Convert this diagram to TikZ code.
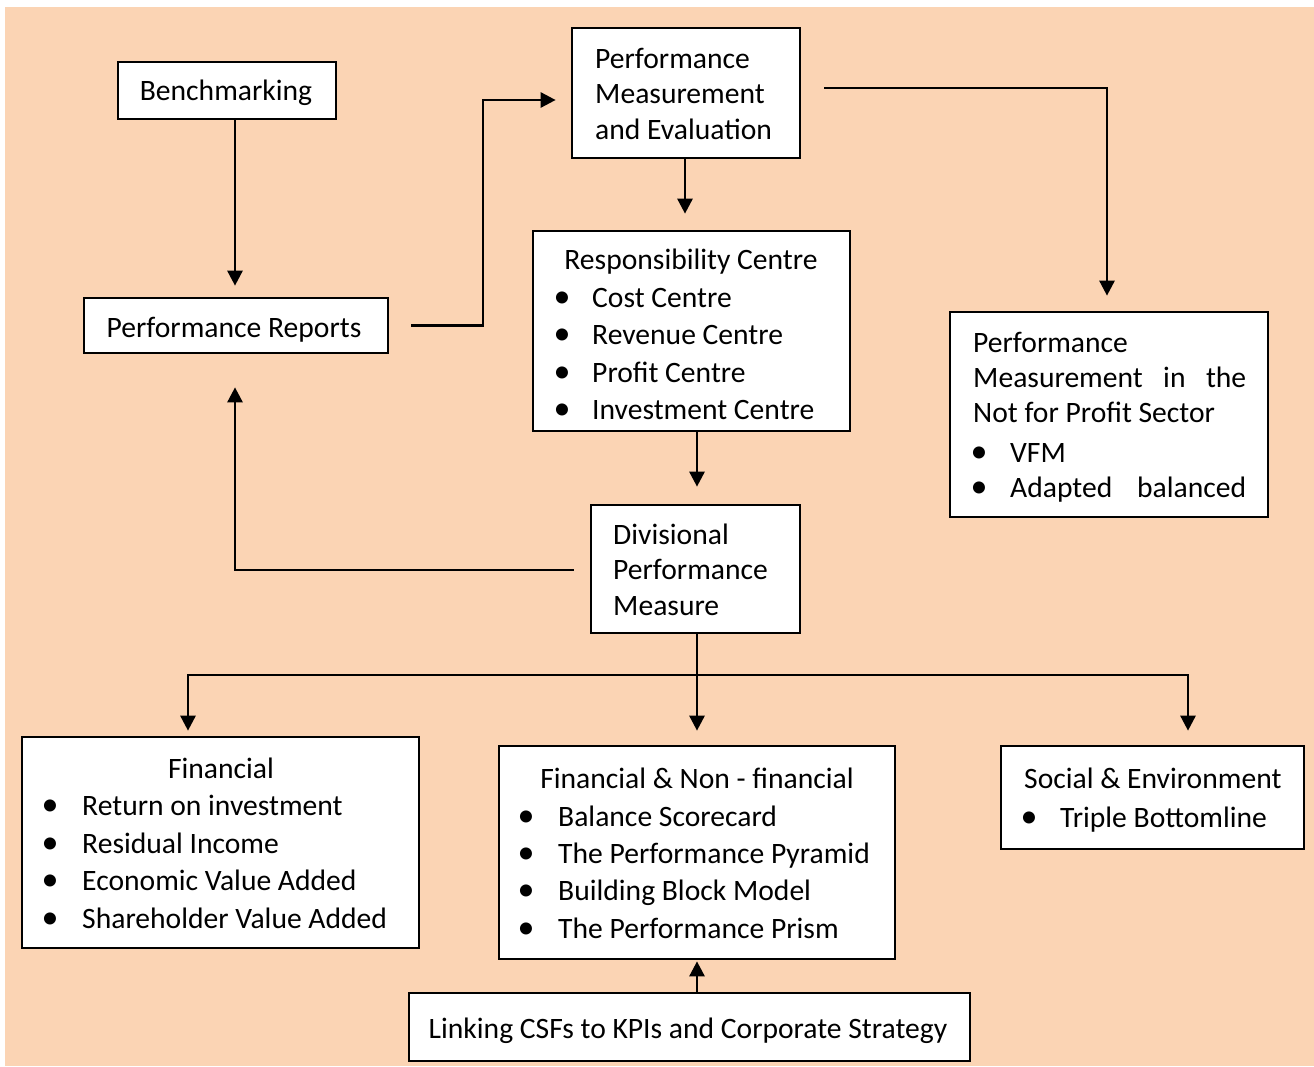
\documentclass[tikz,border=0pt]{standalone}
\usepackage{fontspec}
\setmainfont{Carlito}
\usetikzlibrary{arrows.meta}
\definecolor{peach}{RGB}{251,212,180}
\newcommand{\bodyfont}{\fontsize{29.6}{36}\selectfont}
\begin{document}
\begin{tikzpicture}[x=1pt,y=-1pt,
  box/.style={draw, line width=2.7pt, fill=white, rectangle, inner sep=0pt},
  wire/.style={line width=2.7pt},
  arr/.style={line width=2.7pt, -{Triangle[width=15pt,length=15pt]}},
  txt/.style={anchor=base west, inner sep=0pt, font=\bodyfont},
  ctxt/.style={anchor=base, inner sep=0pt, font=\bodyfont},
  bul/.style={anchor=base, inner sep=0pt, font=\fontsize{34}{36}\selectfont}]
\useasboundingbox (0,0) rectangle (1314,1066);
\fill[peach] (5,7) rectangle (1314,1066);

% boxes
\node[box, minimum width=218pt, minimum height=57pt]  (bench)   at (227,90.5)   {};
\node[box, minimum width=304pt, minimum height=55pt]  (reports) at (236,325.5)  {};
\node[box, minimum width=228pt, minimum height=130pt] (pme)     at (686,93)     {};
\node[box, minimum width=317pt, minimum height=200pt] (resp)    at (691.5,331)  {};
\node[box, minimum width=318pt, minimum height=205pt] (nfp)     at (1109,414.5) {};
\node[box, minimum width=209pt, minimum height=128pt] (div)     at (695.5,569)  {};
\node[box, minimum width=397pt, minimum height=211pt] (fin)     at (220.5,842.5){};
\node[box, minimum width=396pt, minimum height=213pt] (fnf)     at (697,852.5)  {};
\node[box, minimum width=303pt, minimum height=103pt] (soc)     at (1152.5,797.5){};
\node[box, minimum width=561pt, minimum height=68pt]  (link)    at (689.5,1027) {};

% texts
\node[ctxt] (t-bench) at (226,100) {Benchmarking};
\node[ctxt] (t-rep) at (234,337) {Performance Reports};

\node[txt] (t-pme1) at (595,68)  {Performance};
\node[txt] (t-pme2) at (595,103) {Measurement};
\node[txt] (t-pme3) at (595,139) {and Evaluation};

\node[ctxt] (t-rc) at (691,269) {Responsibility Centre};
\foreach \y/\s [count=\i] in {307/Cost Centre,344/Revenue Centre,382/Profit Centre,419/Investment Centre}{
  \node[bul] (b-rc\i) at (562,\y) {•};
  \node[txt] (t-rc\i) at (592,\y) {\s};
}

\node[txt] (t-nfp1) at (973,352) {Performance};
\node[txt] (t-nfp2) at (973,387) {\makebox[273pt][s]{Measurement\hfill in\hfill the}};
\node[txt] (t-nfp3) at (973,422) {Not for Profit Sector};
\node[bul] (b-nfp1) at (979,462) {•};
\node[txt] (t-nfp4) at (1010,462) {VFM};
\node[bul] (b-nfp2) at (979,497) {•};
\node[txt] (t-nfp5) at (1010,497) {\makebox[236pt][s]{Adapted\hfill balanced}};

\node[txt] (t-div1) at (613,544) {Divisional};
\node[txt] (t-div2) at (613,579) {Performance};
\node[txt] (t-div3) at (613,615) {Measure};

\node[ctxt] (t-fin) at (221,778) {Financial};
\foreach \y/\s [count=\i] in {815/Return on investment,853/Residual Income,890/Economic Value Added,928/Shareholder Value Added}{
  \node[bul] (b-fin\i) at (50,\y) {•};
  \node[txt] (t-fin\i) at (82,\y) {\s};
}

\node[ctxt] (t-fnf) at (697,788) {Financial \& Non - financial};
\foreach \y/\s [count=\i] in {826/Balance Scorecard,863/The Performance Pyramid,900/Building Block Model,938/The Performance Prism}{
  \node[bul] (b-fnf\i) at (526,\y) {•};
  \node[txt] (t-fnf\i) at (558,\y) {\s};
}

\node[txt] (t-soc) at (1024,788) {Social \& Environment};
\node[bul] (b-soc) at (1029,827) {•};
\node[txt] (t-soc1) at (1060,827) {Triple Bottomline};

\node[ctxt] (t-link) at (688,1038) {Linking CSFs to KPIs and Corporate Strategy};

% connectors
\coordinate (benchout) at ([xshift=8pt]bench.south);
\draw[arr, shorten >=11pt] (benchout) -- (benchout |- reports.north);

\coordinate (repbend) at (483,325.5);
\draw[arr, shorten <=22pt, shorten >=15pt] (reports.east) -- (repbend) |- ([yshift=-7pt]pme.west);

\coordinate (pmeout) at ([xshift=-1pt]pme.south);
\draw[arr, shorten >=16pt] (pmeout) -- (pmeout |- resp.north);

\coordinate (nfpin) at ([xshift=-2pt]nfp.north);
\draw[arr, shorten <=23pt, shorten >=15pt] ([yshift=5pt]pme.east) -| (nfpin);

\coordinate (rcout) at ([xshift=5.5pt]resp.south);
\draw[arr, shorten >=17pt] (rcout) -- (rcout |- div.north);

\coordinate (repin) at ([xshift=-1pt]reports.south);
\draw[arr, shorten <=16pt, shorten >=33pt] ([yshift=-1pt]div.west) -| (repin);

\coordinate (divout) at ([xshift=1.5pt]div.south);
\coordinate (jmid) at (697,675);
\coordinate (jleft) at (188,675);
\coordinate (jright) at (1188,675);
\draw[wire] (divout) -- (jmid);
\draw[wire, line cap=rect] (jleft) -- (jright);
\draw[arr, shorten >=5pt] (jleft) -- (jleft |- fin.north);
\draw[arr, shorten >=14pt] (jmid) -- (jmid |- fnf.north);
\draw[arr, shorten >=14pt] (jright) -- (jright |- soc.north);

\coordinate (linkout) at ([xshift=7.5pt]link.north);
\draw[arr, shorten >=1pt] (linkout) -- (linkout |- fnf.south);
\end{tikzpicture}
\end{document}
